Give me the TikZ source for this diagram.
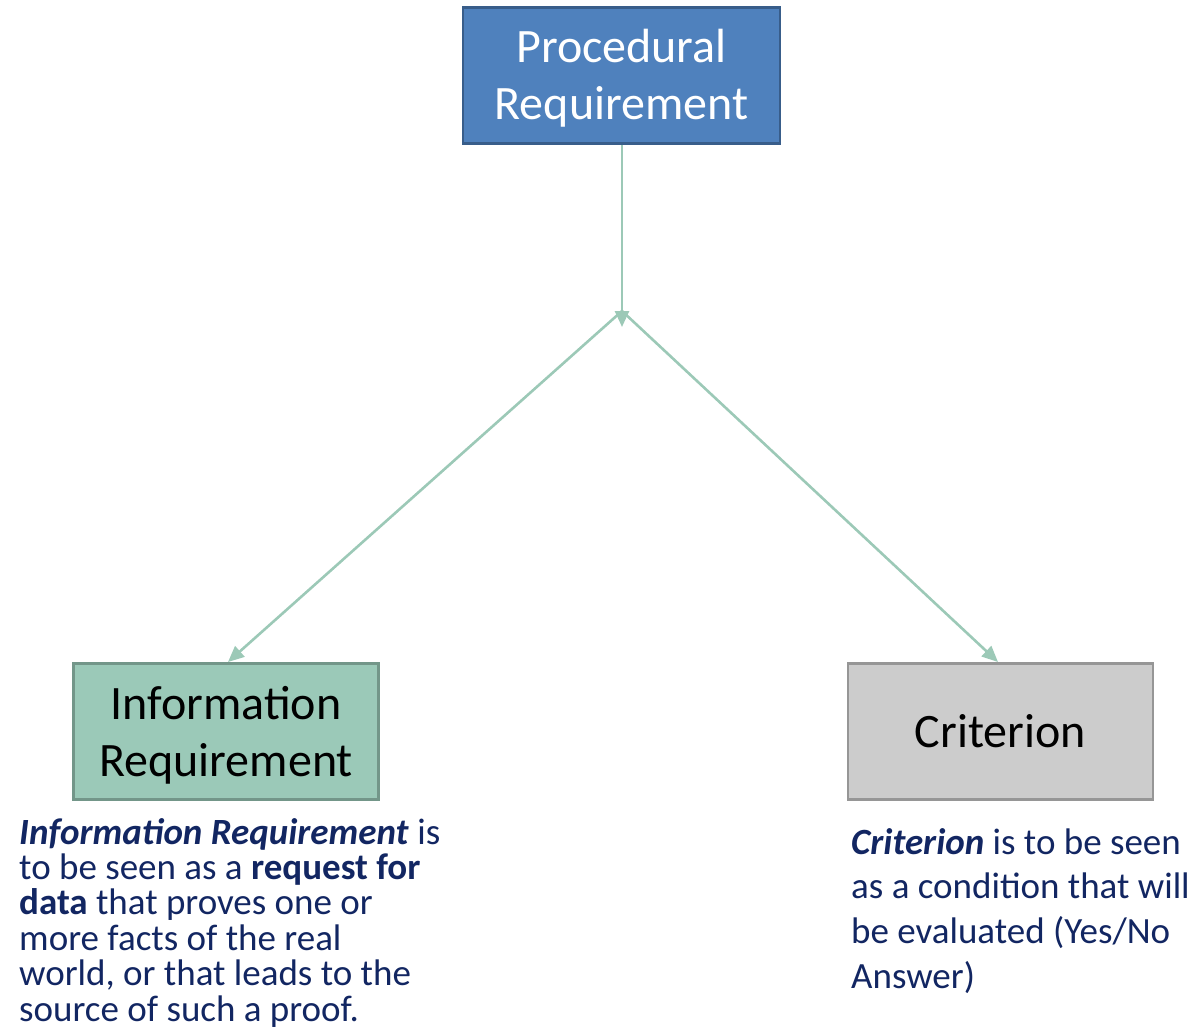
\documentclass[tikz,border=0pt]{standalone}
\usepackage{fontspec}
\setmainfont{Carlito}
\usetikzlibrary{arrows.meta}
\definecolor{procfill}{RGB}{79,129,189}
\definecolor{procdraw}{RGB}{56,93,138}
\definecolor{infofill}{RGB}{155,201,184}
\definecolor{infodraw}{RGB}{115,150,137}
\definecolor{critfill}{RGB}{204,204,204}
\definecolor{critdraw}{RGB}{150,150,150}
\definecolor{linkcol}{RGB}{156,201,183}
\definecolor{desccol}{RGB}{18,38,98}
\begin{document}
\begin{tikzpicture}[x=1pt,y=-1pt,
  box/.style={draw, line width=2.5pt, minimum height=136pt, inner sep=0pt},
  boxtext/.style={inner sep=0pt, align=center, font=\fontsize{48}{57}\selectfont},
  link/.style={draw=linkcol, line width=2.6pt, -{Triangle[length=16pt,width=14pt]}},
  desc/.style={anchor=north west, inner sep=0pt, align=left, text=desccol}
]
\useasboundingbox (0,0) rectangle (1197,1029);
\node[box, fill=procfill, draw=procdraw, minimum width=317pt] (proc) at (621.5,75.5) {};
\node[box, fill=infofill, draw=infodraw, minimum width=305pt] (info) at (226,731.5) {};
\node[box, fill=critfill, draw=critdraw, minimum width=305pt] (crit) at (1000.5,731.5) {};
\node[boxtext, text=white] (proctext) at ([yshift=-3pt]proc.center) {Procedural\\Requirement};
\node[boxtext, text=black] (infotext) at ([yshift=-4pt]info.center) {Information\\Requirement};
\node[boxtext, text=black] (crittext) at (crit.center) {Criterion};
\coordinate (j) at (622,311);
\coordinate (jt) at (622,327);
\coordinate (infotop) at (228,662);
\coordinate (crittop) at (998,662);
\draw[link] (proc.south -| j) -- (jt);
\draw[link] (j) -- (infotop);
\draw[link] (j) -- (crittop);
\node[desc, font=\fontsize{37}{35.4}\selectfont] (infodesc) at (19,818) {\textbf{\textit{Information Requirement}} is\\to be seen as a \textbf{request for}\\\textbf{data} that proves one or\\more facts of the real\\world, or that leads to the\\source of such a proof.};
\node[desc, font=\fontsize{37}{44.7}\selectfont] (critdesc) at (851,828) {\textbf{\textit{Criterion}} is to be seen\\as a condition that will\\be evaluated (Yes/No\\Answer)};
\end{tikzpicture}
\end{document}
